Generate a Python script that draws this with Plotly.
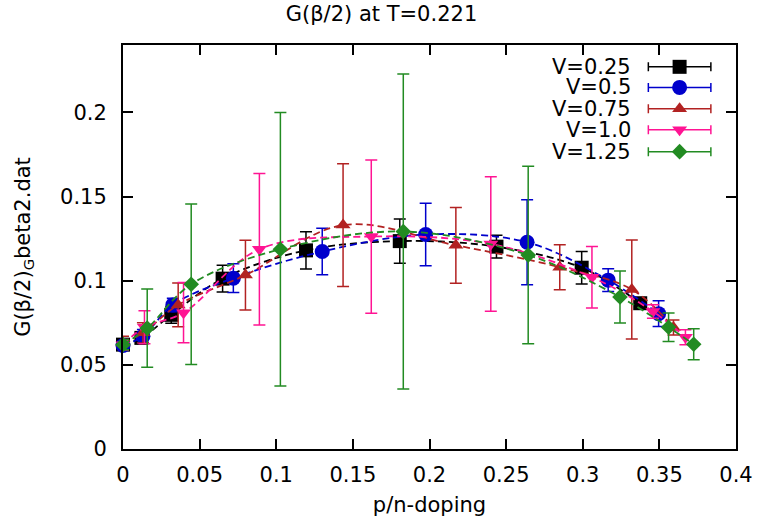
import plotly.graph_objects as go

# ---- data ----
series_names = ["V=0.25", "V=0.5", "V=0.75", "V=1.0", "V=1.25"]

x_v025 = [0.0, 0.012, 0.0315, 0.065, 0.1194, 0.1806, 0.2437, 0.2993, 0.3375]
y_v025 = [0.062, 0.066, 0.0797, 0.1012, 0.1180, 0.1235, 0.1202, 0.1077, 0.0866]
e_v025 = [0.003, 0.003, 0.005, 0.008, 0.011, 0.0132, 0.0068, 0.0097, 0.003]

x_v05 = [0.0, 0.013, 0.0325, 0.072, 0.130, 0.1975, 0.2637, 0.3166, 0.3495]
y_v05 = [0.0615, 0.067, 0.0856, 0.1015, 0.1173, 0.1274, 0.1228, 0.1003, 0.0804]
e_v05 = [0.003, 0.004, 0.004, 0.0085, 0.0138, 0.0186, 0.0253, 0.0068, 0.0077]

x_v075 = [0.0, 0.013, 0.036, 0.0799, 0.1436, 0.2172, 0.285, 0.332, 0.3592]
y_v075 = [0.063, 0.069, 0.0856, 0.1033, 0.1330, 0.1210, 0.1080, 0.0948, 0.0722]
e_v075 = [0.004, 0.006, 0.013, 0.0207, 0.0365, 0.0225, 0.0134, 0.0294, 0.0045]

x_v10 = [0.0, 0.014, 0.0395, 0.089, 0.162, 0.240, 0.306, 0.3458, 0.367]
y_v10 = [0.062, 0.0723, 0.081, 0.1187, 0.1262, 0.1218, 0.102, 0.0817, 0.0664]
e_v10 = [0.003, 0.0098, 0.0179, 0.045, 0.0455, 0.040, 0.0183, 0.004, 0.0045]

x_v125 = [0.0, 0.0158, 0.0445, 0.1027, 0.1829, 0.2644, 0.3243, 0.356, 0.3724]
y_v125 = [0.062, 0.0718, 0.0979, 0.1187, 0.1292, 0.1152, 0.0903, 0.0723, 0.0622]
e_v125 = [0.003, 0.0232, 0.0477, 0.0812, 0.0936, 0.0527, 0.0155, 0.0085, 0.0092]

x_tickvals = [0, 0.05, 0.1, 0.15, 0.2, 0.25, 0.3, 0.35, 0.4]
x_ticktext = ["0", "0.05", "0.1", "0.15", "0.2", "0.25", "0.3", "0.35", "0.4"]
y_tickvals = [0, 0.05, 0.1, 0.15, 0.2]
y_ticktext = ["0", "0.05", "0.1", "0.15", "0.2"]

# ---- styles ----
colors = ["#000000", "#0000cc", "#b22222", "#ff1493", "#228b22"]
symbols = ["square", "circle", "triangle-up", "triangle-down", "diamond"]
msizes = [14, 15, 13, 13, 12]
FONT = "DejaVu Sans"
FS = 21

xs = [x_v025, x_v05, x_v075, x_v10, x_v125]
ys = [y_v025, y_v05, y_v075, y_v10, y_v125]
es = [e_v025, e_v05, e_v075, e_v10, e_v125]

fig = go.Figure()
for i in range(5):
    fig.add_trace(go.Scatter(
        x=xs[i], y=ys[i], mode="markers",
        marker=dict(symbol=symbols[i], size=msizes[i], color=colors[i], line=dict(width=0)),
        error_y=dict(type="data", array=es[i], visible=True, color=colors[i], thickness=1.5, width=6),
        showlegend=False, cliponaxis=False, hoverinfo="skip"))
    fig.add_trace(go.Scatter(
        x=xs[i], y=ys[i], mode="lines",
        line=dict(color=colors[i], width=1.8, dash="7px,4px", shape="spline", smoothing=1),
        showlegend=False, hoverinfo="skip"))

# ---- custom legend (text left, sample right, as in the reference) ----
leg_y = [0.946, 0.895, 0.842, 0.790, 0.736]
for i in range(5):
    fig.add_trace(go.Scatter(
        x=[0.908], y=[leg_y[i]], xaxis="x2", yaxis="y2", mode="markers",
        marker=dict(symbol=symbols[i], size=msizes[i], color=colors[i], line=dict(width=0)),
        error_x=dict(type="constant", value=0.051, visible=True, color=colors[i], thickness=1.5, width=4.5),
        showlegend=False, hoverinfo="skip"))
    fig.add_annotation(x=0.832, y=leg_y[i], xref="x2", yref="y2", text=series_names[i],
                       showarrow=False, xanchor="right", yanchor="middle",
                       font=dict(family=FONT, size=FS, color="black"))

axis_common = dict(showgrid=False, zeroline=False, showline=True, linecolor="black", linewidth=2,
                   mirror="ticks", ticks="inside", ticklen=10, tickwidth=1.5, tickcolor="black",
                   tickfont=dict(family=FONT, size=FS, color="black"))

fig.update_layout(
    width=763, height=521,
    margin=dict(l=123, r=27, t=45, b=72, autoexpand=False),
    paper_bgcolor="white", plot_bgcolor="white",
    font=dict(family=FONT, size=FS, color="black"),
    title=dict(text="G(β/2) at T=0.221", x=0.5, xanchor="center", y=0.973, yanchor="middle",
               font=dict(family=FONT, size=FS, color="black")),
    xaxis=dict(range=[0, 0.4], tickvals=x_tickvals, ticktext=x_ticktext, ticklabelstandoff=6,
               title=dict(text="p/n-doping", standoff=11, font=dict(family=FONT, size=FS)), **axis_common),
    yaxis=dict(range=[0, 0.24], tickvals=y_tickvals, ticktext=y_ticktext, ticklabelstandoff=10,
               title=dict(text="G(β/2)<sub>G</sub>beta2.dat", standoff=24, font=dict(family=FONT, size=FS)),
               **axis_common),
    xaxis2=dict(overlaying="x", range=[0, 1], visible=False, fixedrange=True),
    yaxis2=dict(overlaying="y", range=[0, 1], visible=False, fixedrange=True),
)

fig.write_html("out.html", config={"displayModeBar": False},
               post_script="document.body.style.margin='0';document.body.style.overflow='hidden';")
